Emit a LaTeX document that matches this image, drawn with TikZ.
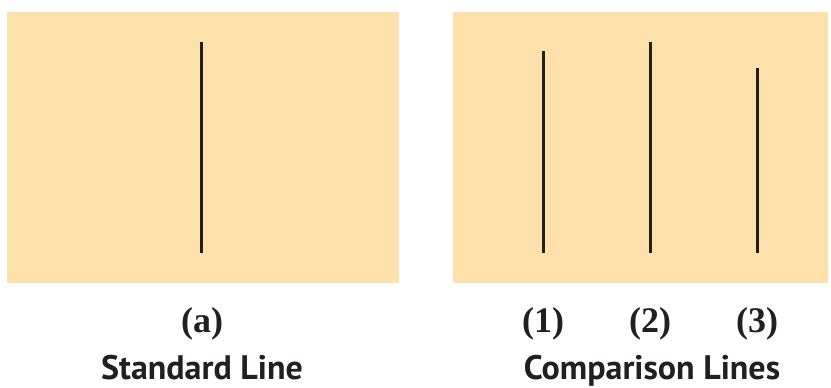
\documentclass[tikz,border=0pt]{standalone}
\usepackage{fontspec}
\setmainfont{Liberation Serif}
\newfontfamily\headfont{PT Sans}
\usepackage{xcolor}
\usetikzlibrary{positioning}
\definecolor{paper}{HTML}{FEE0AB}
\definecolor{ink}{HTML}{231F20}
\tikzset{
  panel/.style={fill=paper, draw=none},
  stick/.style={draw=ink, line width=3pt},
  num/.style={text=ink, font=\fontsize{36}{40}\selectfont\bfseries, inner sep=0pt, anchor=base},
  head/.style={text=ink, font=\headfont\fontsize{34}{40}\selectfont\bfseries, inner sep=0pt, anchor=base},
}
\begin{document}
\begin{tikzpicture}[x=1pt, y=-1pt]
  \useasboundingbox (0,0) rectangle (831,388);

  % panels
  \fill[panel] (7,12) rectangle (399,283);
  \fill[panel] (453,12) rectangle (828,283);

  % standard line
  \coordinate (s top) at (201,42);
  \coordinate (s bot) at (201,253);
  \draw[stick] (s top) -- (s bot);

  % comparison lines
  \coordinate (c1 top) at (543,51);
  \coordinate (c1 bot) at (543,253);
  \coordinate (c2 top) at (650,42);
  \coordinate (c2 bot) at (650,253);
  \coordinate (c3 top) at (757,68);
  \coordinate (c3 bot) at (757,253);
  \draw[stick] (c1 top) -- (c1 bot);
  \draw[stick] (c2 top) -- (c2 bot);
  \draw[stick] (c3 top) -- (c3 bot);

  % labels
  \node[num] (a) at (202,332) {(a)};
  \node[num] (n1) at (543,332) {(1)};
  \node[num] (n2) at (650,332) {(2)};
  \node[num] (n3) at (757,332) {(3)};
  \node[head] (std) at (202,379) {Standard Line};
  \node[head] (cmp) at (652,379) {Comparison Lines};
\end{tikzpicture}
\end{document}
